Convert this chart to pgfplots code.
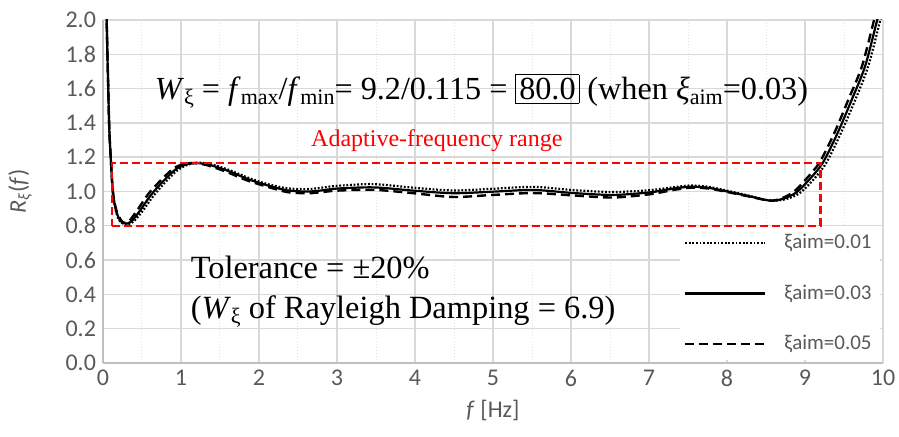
\documentclass[border=0pt]{standalone}
\usepackage{fontspec}
\setmainfont{Liberation Serif}
\newfontfamily\calibri{Carlito}
\usepackage{pgfplots}
\pgfplotsset{compat=1.18}

\definecolor{tickgray}{HTML}{595959}
\definecolor{gridgray}{HTML}{D9D9D9}
\definecolor{axisgray}{HTML}{BFBFBF}

\newcommand\sub[1]{\raisebox{-0.32ex}{\fontsize{11}{11}\selectfont #1}}

% R_xi(f) for three target damping ratios
\pgfplotstableread{
f      R
0.040  2.15
0.047  2.00
0.058  1.78
0.068  1.59
0.081  1.36
0.100  1.19
0.124  1.01
0.150  0.92
0.180  0.862
0.215  0.828
0.27   0.81
0.33   0.810
0.40   0.828
0.51   0.888
0.64   0.97
0.78   1.045
0.95   1.122
1.08   1.155
1.20   1.168
1.38   1.160
1.63   1.123
1.88   1.077
2.12   1.042
2.37   1.018
2.63   1.014
2.80   1.022
3.00   1.033
3.47   1.043
3.98   1.022
4.49   1.006
5.00   1.016
5.52   1.027
6.03   1.008
6.54   0.997
7.01   1.008
7.30   1.024
7.53   1.035
7.75   1.028
7.95   1.010
8.25   0.979
8.55   0.947
8.75   0.955
8.93   0.990
9.10   1.065
9.27   1.165
9.46   1.34
9.64   1.53
9.81   1.73
9.96   1.99
10.01  2.08
}\xiA

\pgfplotstableread{
f      R
0.040  2.15
0.047  2.00
0.058  1.78
0.068  1.59
0.081  1.36
0.100  1.19
0.124  1.01
0.150  0.925
0.180  0.87
0.215  0.835
0.26   0.815
0.31   0.813
0.374  0.83
0.48   0.892
0.61   0.977
0.757  1.053
0.928  1.128
1.05   1.155
1.17   1.166
1.35   1.157
1.61   1.119
1.86   1.072
2.12   1.034
2.37   1.006
2.63   1.000
2.80   1.006
3.00   1.017
3.47   1.024
3.98   1.005
4.49   0.990
5.00   0.999
5.52   1.009
6.03   0.991
6.54   0.980
7.01   0.995
7.30   1.016
7.53   1.028
7.75   1.022
7.95   1.005
8.25   0.976
8.55   0.947
8.72   0.958
8.89   0.995
9.06   1.072
9.23   1.169
9.42   1.343
9.60   1.536
9.77   1.73
9.92   1.99
9.97   2.08
}\xiB

\pgfplotstableread{
f      R
0.040  2.15
0.047  2.00
0.058  1.78
0.068  1.59
0.081  1.36
0.100  1.19
0.124  1.01
0.150  0.93
0.180  0.878
0.215  0.845
0.25   0.822
0.30   0.818
0.35   0.835
0.45   0.898
0.58   0.985
0.73   1.06
0.90   1.133
1.02   1.158
1.14   1.166
1.32   1.155
1.58   1.115
1.84   1.066
2.12   1.026
2.37   0.996
2.63   0.990
2.80   0.996
3.00   1.005
3.47   1.010
3.98   0.990
4.49   0.968
5.00   0.980
5.52   0.991
6.03   0.977
6.54   0.965
7.01   0.984
7.30   1.008
7.53   1.022
7.75   1.018
7.95   1.002
8.25   0.974
8.55   0.947
8.70   0.960
8.86   1.000
9.02   1.075
9.19   1.172
9.38   1.345
9.56   1.54
9.73   1.73
9.88   1.99
9.93   2.08
}\xiC

\begin{document}
\begin{tikzpicture}
\useasboundingbox (-51.5pt,-37pt) rectangle (398pt,181.5pt);
\begin{axis}[
  scale only axis,
  width=390pt, height=171.5pt,
  xmin=0, xmax=10, ymin=0, ymax=2,
  xtick={0,1,...,10},
  minor xtick={0.5,1.5,...,9.5},
  ytick={0,0.2,...,2.0},
  yticklabel style={/pgf/number format/.cd,fixed,fixed zerofill,precision=1},
  /pgf/number format/assume math mode=true,
  ticklabel style={font=\calibri\fontsize{12}{12}\selectfont, text=tickgray},
  major tick length=0pt, minor tick length=0pt,
  grid=both,
  major grid style={gridgray, line width=0.7pt},
  minor grid style={gridgray!70, line width=0.5pt, dash pattern=on 0.6pt off 0.9pt},
  axis line style={axisgray, line width=1pt},
  axis x line*=bottom, axis y line*=left,
  xlabel={{\calibri\fontsize{12}{12}\selectfont\color{tickgray}\textit{f} [Hz]}},
  ylabel={{\calibri\fontsize{12}{12}\selectfont\color{tickgray}\textit{R}\textsubscript{\textit{ξ}}(\textit{f})}},
  xlabel style={at={(axis description cs:0.5,0)}, anchor=north, yshift=-15pt},
  ylabel style={at={(axis description cs:0,0.5)}, anchor=south, yshift=32pt},
  legend style={at={(axis cs:10,0)}, anchor=south east, xshift=-1.5pt, yshift=1.5pt,
    fill=white, draw=none,
    font=\calibri\fontsize{10.5}{11}\selectfont, text=tickgray,
    inner xsep=2pt, inner ysep=1.5pt, row sep=12.5pt, cells={anchor=west},
    /tikz/every odd column/.append style={column sep=7pt}},
  legend image code/.code={\draw[#1] (0pt,0pt) -- (40pt,0pt);},
  legend cell align=left,
]
\addplot[black, line width=1.1pt, dash pattern=on 0.9pt off 0.9pt, smooth, tension=0.5] table[x=f,y=R] {\xiA};
\addlegendentry{ξaim=0.01}
\addplot[black, line width=1.1pt, smooth, tension=0.5] table[x=f,y=R] {\xiB};
\addlegendentry{ξaim=0.03}
\addplot[black, line width=1.2pt, dash pattern=on 4.5pt off 2.5pt, smooth, tension=0.5] table[x=f,y=R] {\xiC};
\addlegendentry{ξaim=0.05}

% adaptive-frequency range, f_min to f_max within +-20 %
\addplot[red, line width=1.2pt, dash pattern=on 4pt off 2pt, forget plot] coordinates {
  (0.115,0.8) (9.2,0.8) (9.2,1.165) (0.115,1.165) (0.115,0.8)};

\node[anchor=west, font=\fontsize{16.1}{17}\selectfont, inner sep=0pt] at (axis cs:0.66,1.585)
  {\textit{W}\sub{ξ} = \textit{f}\sub{max}/\textit{f}\sub{min}= 9.2/0.115 = {\setlength{\fboxsep}{1.5pt}\fbox{80.0}} (when \textit{ξ}\sub{aim}=0.03)};
\node[font=\fontsize{12}{12}\selectfont, text=red] at (axis cs:4.28,1.295) {Adaptive-frequency range};
\node[anchor=west, font=\fontsize{16.2}{17}\selectfont, inner sep=0pt] at (axis cs:1.12,0.555) {Tolerance = ±20\%};
\node[anchor=west, font=\fontsize{16.2}{17}\selectfont, inner sep=0pt] at (axis cs:1.12,0.30) {(\textit{W}\sub{ξ} of Rayleigh Damping = 6.9)};
\end{axis}
\end{tikzpicture}
\end{document}
